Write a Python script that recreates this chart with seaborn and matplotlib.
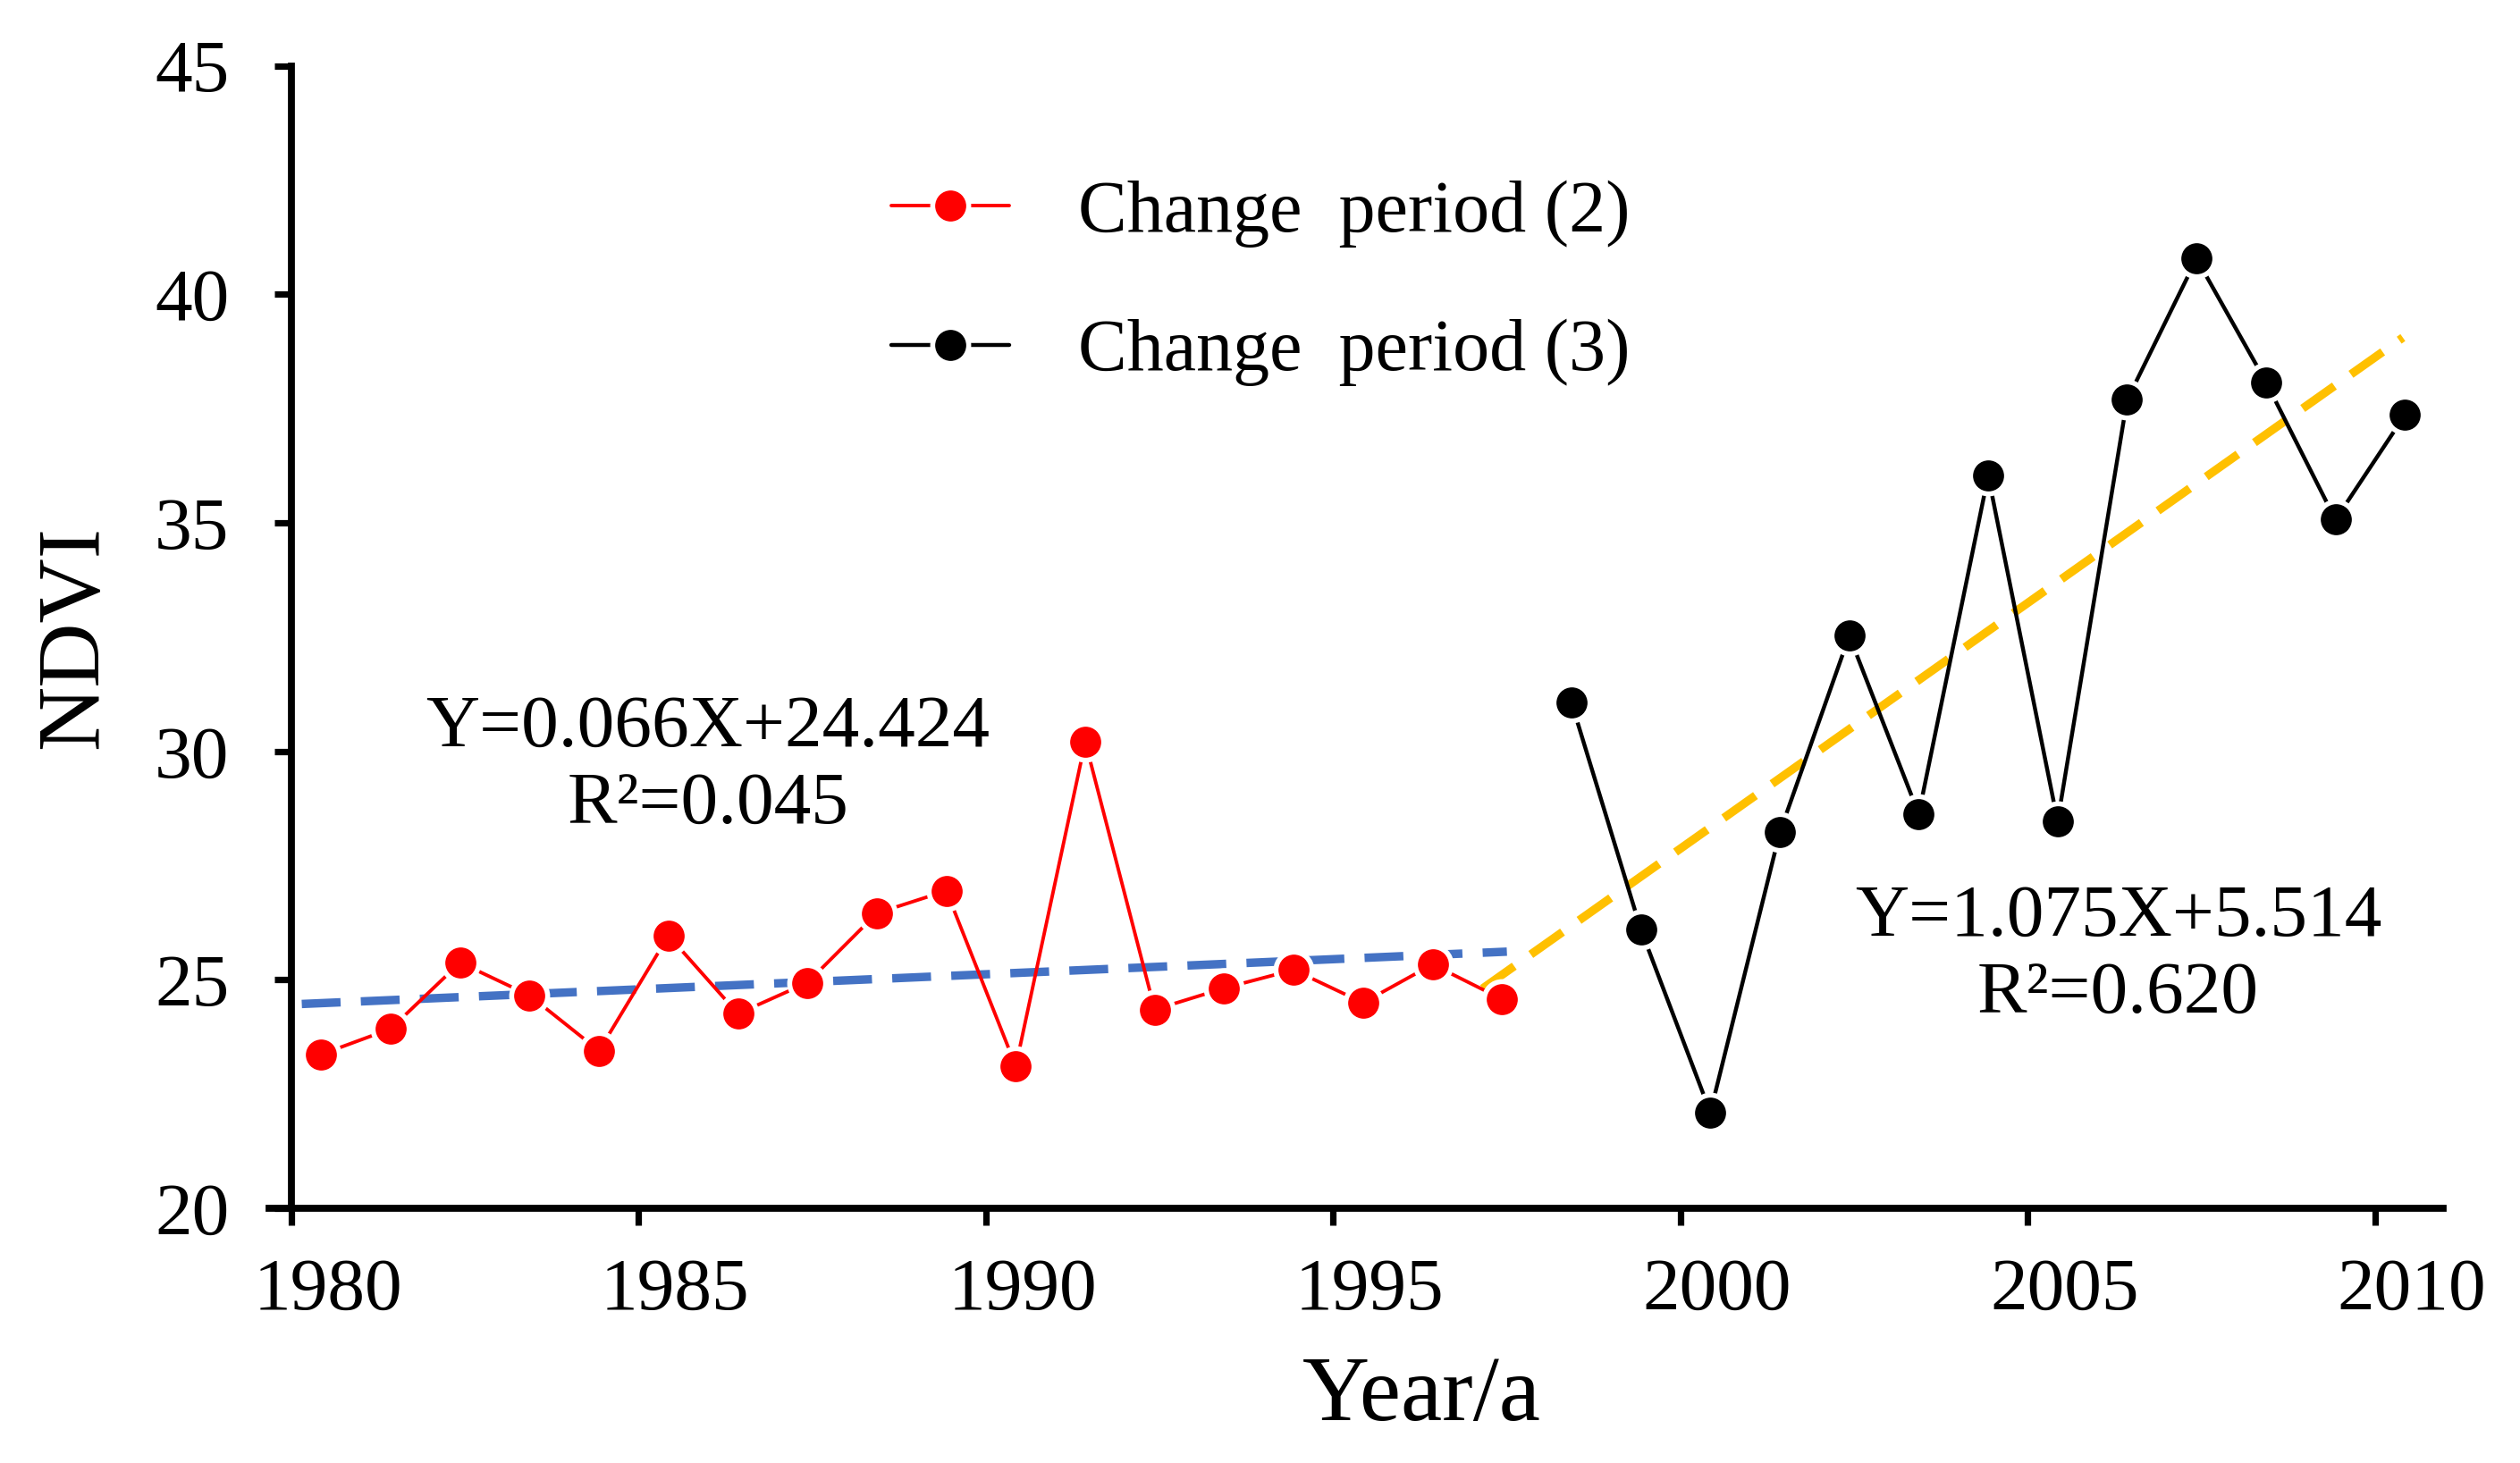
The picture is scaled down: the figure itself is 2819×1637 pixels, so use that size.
import numpy as np
import pandas as pd
import matplotlib
import matplotlib.pyplot as plt
import matplotlib.transforms as mtrans
import seaborn as sns

matplotlib.use('Agg')

# NDVI by year
years_p2 = list(range(1980, 1998))
ndvi_p2 = [23.37, 23.93, 25.38, 24.66, 23.45, 25.97, 24.26, 24.94, 26.46,
           26.95, 23.11, 30.21, 24.35, 24.82, 25.22, 24.50, 25.34, 24.58]
years_p3 = list(range(1998, 2011))
ndvi_p3 = [31.07, 26.10, 22.10, 28.23, 32.53, 28.63, 36.03, 28.47, 37.69,
           40.78, 38.08, 35.07, 37.36]

# trend equations as printed on the chart (X = year index, 1980 -> 1)
slope_p2, icpt_p2, r2_p2 = 0.066, 24.424, 0.045
slope_p3, icpt_p3, r2_p3 = 1.075, 5.514, 0.620

label_p2 = 'Change  period (2)'
label_p3 = 'Change  period (3)'
xticks = [1980, 1985, 1990, 1995, 2000, 2005, 2010]
yticks = [20, 25, 30, 35, 40, 45]

shift = 0.43  # points sit in the middle of each year slot

sns.set_theme(style='ticks')
plt.rcParams['font.family'] = ['Liberation Serif', 'DejaVu Serif']
for key in ['text.color', 'axes.labelcolor', 'xtick.color', 'ytick.color',
            'axes.edgecolor']:
    plt.rcParams[key] = 'black'

df2 = pd.DataFrame({'x': np.array(years_p2) + shift, 'y': ndvi_p2})
df3 = pd.DataFrame({'x': np.array(years_p3) + shift, 'y': ndvi_p3})

fig = plt.figure(figsize=(14.095, 8.185), dpi=200)
ax = fig.add_axes([0.1068, 0.174, 0.8627, 0.781])

# trend lines
tx2 = np.array([1980.15, 1997.5])
ty2 = slope_p2 * (tx2 - 1979.4) + icpt_p2
ax.plot(tx2, ty2, color='#4472C4', lw=3.4, dashes=(4.6, 2.4), zorder=2)
tx3 = np.array([1997.15, 2010.4])
ty3 = slope_p3 * (tx3 - 1979.2) + icpt_p3
ax.plot(tx3, ty3, color='#FFC000', lw=3.4, dashes=(4.6, 2.4), zorder=2)

sns.lineplot(data=df2, x='x', y='y', ax=ax, color='#FF0000', lw=1.4,
             marker='o', markersize=14.5, markeredgecolor='white',
             markeredgewidth=2.0, zorder=3)
sns.lineplot(data=df3, x='x', y='y', ax=ax, color='black', lw=1.6,
             marker='o', markersize=14.5, markeredgecolor='white',
             markeredgewidth=2.0, zorder=3)

ax.set_xlim(1979.68, 2010.98)
ax.set_ylim(20, 45)
ax.spines['left'].set_position(('data', 1980))
ax.set_xticks(xticks)
ax.set_yticks(yticks)
ax.tick_params(axis='both', direction='out', length=7, width=2.6,
               labelsize=30, color='black', labelcolor='black')
ax.tick_params(axis='x', pad=13)
ax.tick_params(axis='y', pad=18)
for side in ['top', 'right']:
    ax.spines[side].set_visible(False)
for side in ['left', 'bottom']:
    ax.spines[side].set_linewidth(2.8)
    ax.spines[side].set_color('black')

# year labels sit a little right of their ticks in the original
nudge = mtrans.ScaledTranslation(41 / 200, 0, fig.dpi_scale_trans)
for lbl in ax.get_xticklabels():
    lbl.set_transform(lbl.get_transform() + nudge)

ax.set_xlabel('Year/a', fontsize=37.5, labelpad=12)
ax.xaxis.label.set_x(0.53)
ax.set_ylabel('NDVI', fontsize=36, labelpad=16)

ax.text(1986.0, 29.65, 'Y=0.066X+24.424\nR²=0.045', fontsize=30,
        ha='center', va='center', linespacing=1.2)
ax.text(2006.3, 25.5, 'Y=1.075X+5.514\nR²=0.620', fontsize=30,
        ha='center', va='center', linespacing=1.2)

h2 = ax.lines[2]
h3 = ax.lines[3]
leg = ax.legend([h2, h3], [label_p2, label_p3], loc='upper left',
                bbox_to_anchor=(0.256, 0.958), frameon=False, fontsize=29.5,
                handlelength=1.6, handletextpad=0.95, labelspacing=0.98)

fig.savefig('out.png', dpi=200, facecolor='white')
plt.close()
